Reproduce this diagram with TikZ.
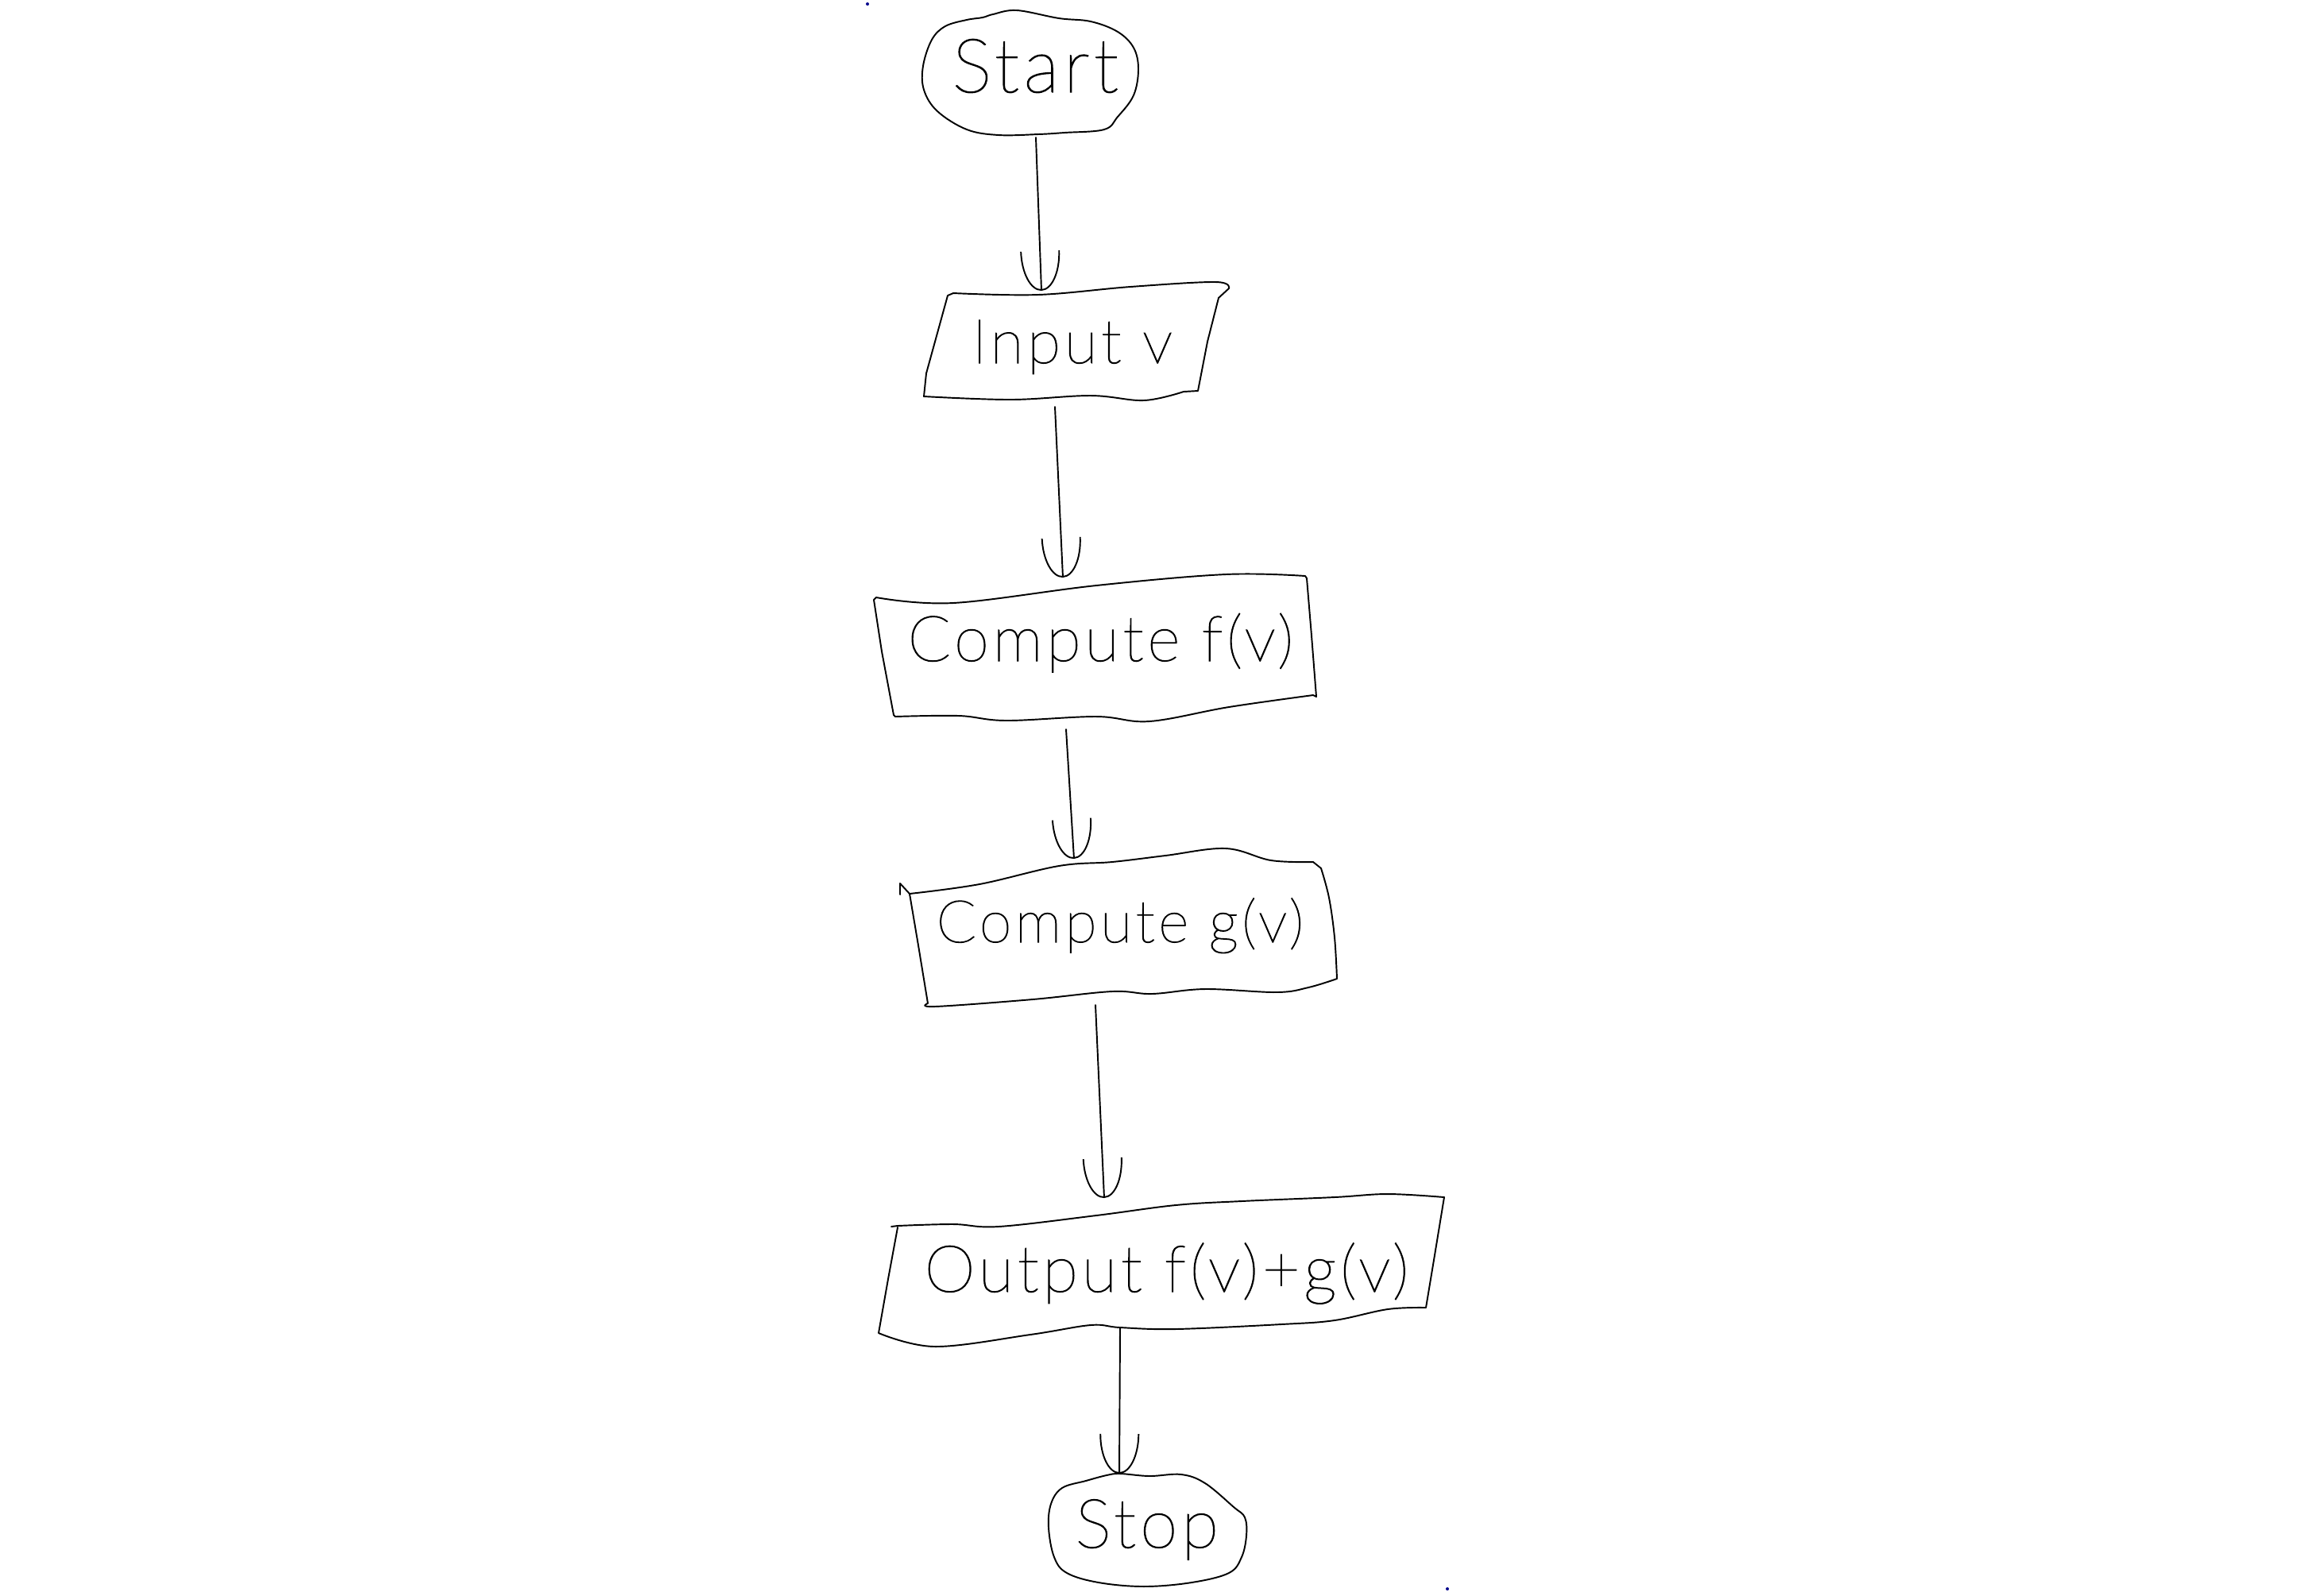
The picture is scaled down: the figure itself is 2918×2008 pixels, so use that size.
\documentclass[tikz,border=0pt]{standalone}
\usepackage{fontspec}
\newfontfamily\handfont{Lato Thin}[LetterSpace=6,FakeBold=1.5]
\usetikzlibrary{arrows.meta}
\newcommand{\handtext}[2]{\resizebox{#1}{!}{\handfont #2}}
\begin{document}
\begin{tikzpicture}[x=0.01cm,y=-0.01cm,
  shapeline/.style={draw=black, line width=0.55pt, line join=round, line cap=round},
  flow/.style={draw=black, line width=0.55pt, line cap=round,
    -{Arc Barb[arc=180,length=5mm,width=5mm,line width=0.55pt]}},
  lbl/.style={inner sep=0pt, anchor=base west},
  dot/.style={fill=blue!55!black}]
\useasboundingbox (0,0) rectangle (2918,2008);
\fill[white] (0,0) rectangle (2918,2008);

% Start ellipse
\draw[shapeline] plot[smooth cycle, tension=0.6] coordinates {
  (1250,18) (1280,13) (1333,23) (1373,27) (1407,40) (1427,60) (1433,87)
  (1427,120) (1407,147) (1390,163) (1340,167) (1307,169) (1257,170)
  (1217,163) (1180,140) (1163,113) (1162,83) (1173,50) (1190,33) (1217,25) (1237,22)};
\node[lbl] (start) at (1198,116) {\handtext{2.09cm}{Start}};

% Input v
\draw[shapeline] (1193,372) -- plot[smooth, tension=0.6] coordinates {
  (1200,369) (1307,371) (1423,361) (1530,355) (1547,363)}
  -- (1534,375) -- (1520,430) -- (1508,492)
  -- plot[smooth, tension=0.6] coordinates {
  (1490,493) (1440,504) (1373,498) (1273,503) (1163,499)}
  -- (1166,470) -- cycle;
\node[lbl] (input) at (1223,457) {\handtext{2.52cm}{Input v}};

% Compute f(v)
\draw[shapeline] (1100,755) -- plot[smooth, tension=0.6] coordinates {
  (1103,752) (1200,759) (1380,737) (1543,723) (1643,725)}
  -- (1645,728) -- (1651,800) -- (1657,877)
  -- plot[smooth, tension=0.6] coordinates {
  (1653,875) (1547,890) (1447,908) (1380,902) (1267,907) (1207,901) (1127,902)}
  -- (1125,900) -- (1110,820) -- cycle;
\node[lbl] (cf) at (1142,832) {\handtext{4.85cm}{Compute f(v)}};

% Compute g(v)
\draw[shapeline] (1133,1126) -- (1133,1112) -- (1145,1125);
\draw[shapeline] (1145,1125) -- plot[smooth, tension=0.6] coordinates {
  (1145,1125) (1233,1113) (1333,1090) (1400,1085) (1467,1077) (1543,1068) (1600,1083) (1653,1085)}
  -- (1663,1093) -- plot[smooth, tension=0.6] coordinates {
  (1663,1093) (1673,1130) (1680,1180) (1683,1232)}
  -- plot[smooth, tension=0.6] coordinates {
  (1683,1232) (1647,1243) (1607,1249) (1517,1245) (1450,1251) (1400,1248) (1300,1258) (1177,1267) (1168,1263)}
  -- (1156,1190) -- cycle;
\node[lbl] (cg) at (1178,1186) {\handtext{4.62cm}{Compute g(v)}};

% Output f(v)+g(v)
\draw[shapeline] (1122,1544) -- plot[smooth, tension=0.6] coordinates {
  (1130,1543) (1200,1541) (1257,1544) (1380,1530) (1480,1517) (1563,1512) (1680,1507) (1747,1503) (1818,1507)}
  -- (1806,1580) -- (1795,1646)
  -- plot[smooth, tension=0.6] coordinates {
  (1795,1646) (1747,1648) (1680,1662) (1613,1667) (1480,1673) (1410,1671) (1373,1668) (1297,1680) (1177,1695) (1106,1678)}
  -- (1118,1610) -- (1130,1545);
\node[lbl] (out) at (1163,1626) {\handtext{6.09cm}{Output f(v)+g(v)}};

% Stop ellipse
\draw[shapeline] plot[smooth cycle, tension=0.6] coordinates {
  (1410,1855) (1447,1858) (1487,1856) (1517,1867) (1553,1897) (1567,1910)
  (1569,1933) (1563,1960) (1547,1980) (1500,1992) (1440,1997) (1383,1992)
  (1343,1980) (1327,1960) (1320,1923) (1323,1893) (1337,1873) (1367,1864) (1393,1857)};
\node[lbl] (stop) at (1353,1948) {\handtext{1.80cm}{Stop}};

% connector end points on the shapes
\coordinate (start-s) at (1304,173);
\coordinate (input-n) at (1311,366);
\coordinate (input-s) at (1328,512);
\coordinate (cf-n) at (1338,727);
\coordinate (cf-s) at (1342,918);
\coordinate (cg-n) at (1352,1081);
\coordinate (cg-s) at (1379,1265);
\coordinate (out-n) at (1390,1508);
\coordinate (out-s) at (1410,1672);
\coordinate (stop-n) at (1409,1855);

\draw[flow] (start-s) -- (input-n);
\draw[flow] (input-s) -- (cf-n);
\draw[flow] (cf-s) -- (cg-n);
\draw[flow] (cg-s) -- (out-n);
\draw[flow] (out-s) -- (stop-n);

% stray specks
\fill[dot] (1092,5) circle[radius=0.02cm];
\fill[dot] (1822,2000) circle[radius=0.02cm];
\end{tikzpicture}
\end{document}
